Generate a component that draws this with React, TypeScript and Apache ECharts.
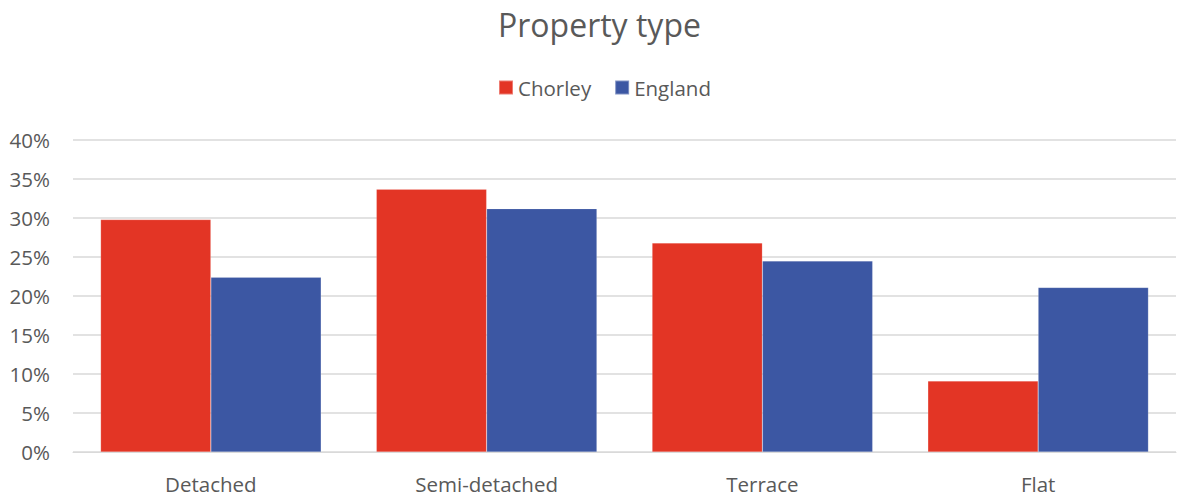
import React, { useEffect, useRef } from "react";
import * as echarts from "echarts";

const categories = ["Detached", "Semi-detached", "Terrace", "Flat"];
const chorley = [29.8, 33.7, 26.8, 9.1];
const england = [22.4, 31.2, 24.5, 21.1];
const yTicks = [0, 5, 10, 15, 20, 25, 30, 35, 40];

const FONT = "'Open Sans', 'Noto Sans', sans-serif";
const TEXT = "#595959";

export default function App() {
  const ref = useRef<HTMLDivElement>(null);
  useEffect(() => {
    document.body.style.margin = "0";
    const chart = echarts.init(ref.current!, null, { renderer: "svg" });
    chart.setOption({
      animation: false,
      backgroundColor: "#ffffff",
      title: {
        text: "Property type",
        left: 493,
        top: 3,
        textStyle: { fontFamily: FONT, fontSize: 32, fontWeight: "normal", color: TEXT },
      },
      legend: {
        top: 72,
        left: 493,
        itemWidth: 14,
        itemHeight: 14,
        itemGap: 23,
        icon: "rect",
        textStyle: { fontFamily: FONT, fontSize: 20.5, color: TEXT },
        data: ["Chorley", "England"],
      },
      grid: { left: 73, right: 2, top: 140, bottom: 45, containLabel: false },
      xAxis: {
        type: "category",
        data: categories,
        axisLine: { lineStyle: { color: "#d9d9d9", width: 1 } },
        axisTick: { show: false },
        axisLabel: { fontFamily: FONT, fontSize: 20.5, color: TEXT, margin: 21 },
      },
      yAxis: {
        type: "value",
        min: yTicks[0],
        max: yTicks[yTicks.length - 1],
        interval: 5,
        axisLine: { show: false },
        axisTick: { show: false },
        splitLine: { lineStyle: { color: "#d9d9d9", width: 1.5 } },
        axisLabel: {
          fontFamily: FONT,
          fontSize: 20.5,
          color: TEXT,
          margin: 23,
          formatter: (v: number) => `${v}%`,
        },
      },
      series: [
        {
          name: "Chorley",
          type: "bar",
          data: chorley,
          barGap: "0%",
          barCategoryGap: "20%",
          itemStyle: { color: "#E33525", borderColor: "rgba(255,255,255,0.35)", borderWidth: 0.5 },
        },
        {
          name: "England",
          type: "bar",
          data: england,
          barGap: "0%",
          barCategoryGap: "20%",
          itemStyle: { color: "#3C57A3", borderColor: "rgba(255,255,255,0.35)", borderWidth: 0.5 },
        },
      ],
    });
    return () => chart.dispose();
  }, []);
  return <div ref={ref} style={{ width: 1178, height: 497 }} />;
}
